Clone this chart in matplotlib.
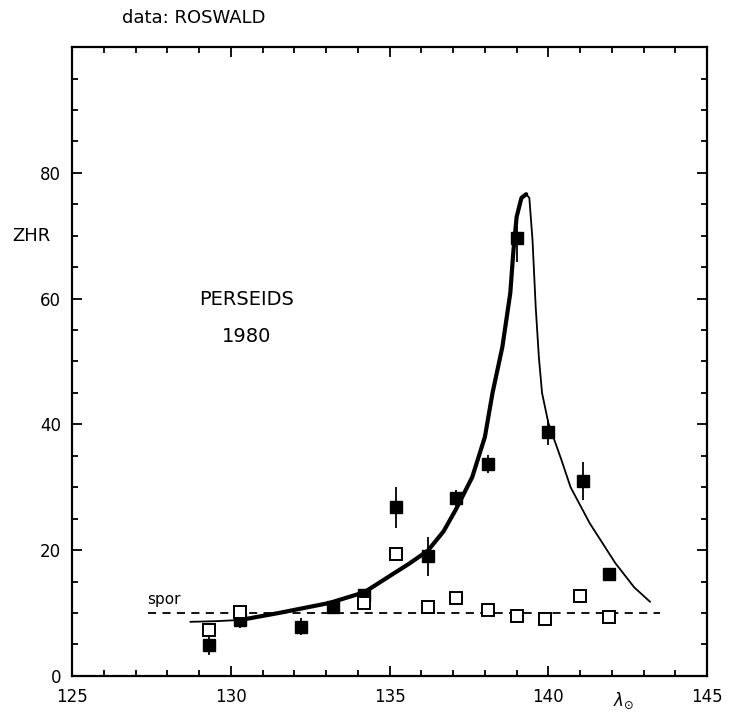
##############################################################################
# Perseids 1980 ZHR profile (data: ROSWALD)
##############################################################################
import numpy as np
import matplotlib
matplotlib.use('Agg')
import matplotlib.pyplot as plt
from matplotlib.ticker import MultipleLocator

plt.rcParams['font.family'] = ['DejaVu Sans']
##############################################################################
# Data
##############################################################################
# filled squares: ZHR with error bars
filledLam = [129.3, 130.3, 132.2, 133.2, 134.2, 135.2, 136.2, 137.1, 138.1,
             139.0, 140.0, 141.1, 141.9]
filledZhr = [4.9, 8.9, 7.8, 11.0, 12.9, 26.9, 19.1, 28.3, 33.7,
             69.6, 38.8, 31.0, 16.2]
filledLo = [3.3, 7.6, 6.5, 10.0, 12.0, 23.5, 15.9, 27.0, 32.3,
            65.8, 36.7, 28.0, 16.2]
filledHi = [7.0, 10.0, 9.2, 12.0, 13.8, 30.0, 22.1, 29.5, 35.1,
            72.0, 40.7, 34.0, 16.2]
# open squares: sporadic rate
openLam = [129.3, 130.3, 134.2, 135.2, 136.2, 137.1, 138.1, 139.0, 139.9,
           141.0, 141.9]
openZhr = [7.3, 10.2, 11.6, 19.4, 10.9, 12.4, 10.5, 9.5, 9.1, 12.7, 9.4]
# fitted profile
curveLam = [128.7, 129.5, 130.3, 131.5, 133.1, 134.2, 135.1, 135.6, 136.2,
            136.7, 137.1, 137.6, 138.0, 138.24, 138.55, 138.8, 138.9, 139.0,
            139.15, 139.3, 139.4, 139.5, 139.6, 139.7, 139.8, 140.0, 140.4,
            140.7, 141.3, 142.1, 142.7, 143.2]
curveZhr = [8.6, 8.7, 8.9, 10.0, 11.6, 13.3, 16.2, 17.8, 19.9,
            23.0, 26.6, 31.6, 38.0, 45.0, 52.3, 60.9, 67.7, 73.0,
            76.0, 76.6, 76.0, 69.3, 58.7, 50.7, 45.0, 40.2, 34.5,
            30.0, 24.3, 18.0, 14.1, 11.8]
THICK_FROM, PEAK = 2, 19
# sporadic level
sporLam = [127.4, 143.5]
sporZhr = [10.0, 10.0]
##############################################################################
# Figure
##############################################################################
fig = plt.figure(figsize=(7.29, 7.13), dpi=100, facecolor='w')
ax = fig.add_axes([0.099, 0.052, 0.871, 0.882])

ax.plot(sporLam, sporZhr, color='k', lw=1.3, ls=(0, (4.5, 3.5)))
ax.plot(curveLam[:THICK_FROM + 1], curveZhr[:THICK_FROM + 1],
        color='k', lw=1.3, solid_capstyle='butt')
ax.plot(curveLam[THICK_FROM:PEAK + 1], curveZhr[THICK_FROM:PEAK + 1],
        color='k', lw=3.0, solid_joinstyle='round', solid_capstyle='round')
ax.plot(curveLam[PEAK:], curveZhr[PEAK:], color='k', lw=1.3)

yerr = np.array([
    np.array(filledZhr) - np.array(filledLo),
    np.array(filledHi) - np.array(filledZhr),
])
ax.errorbar(filledLam, filledZhr, yerr=yerr, fmt='s', color='k',
            ms=8.5, mec='k', mfc='k', elinewidth=1.3, capsize=0, zorder=5)
ax.plot(openLam, openZhr, 's', ms=8, mfc='w', mec='k', mew=1.4, zorder=6)

ax.set_xlim(125, 145)
ax.set_ylim(0, 100)
ax.xaxis.set_major_locator(MultipleLocator(5))
ax.xaxis.set_minor_locator(MultipleLocator(1))
ax.set_yticks([0, 20, 40, 60, 80])
ax.yaxis.set_minor_locator(MultipleLocator(5))
ax.tick_params(which='both', direction='in', top=True, right=True,
               width=1.3, labelsize=12)
ax.tick_params(which='major', length=7)
ax.tick_params(which='minor', length=4)
ax.tick_params(axis='x', pad=9)
ax.tick_params(axis='y', pad=8)
for sp in ax.spines.values():
    sp.set_linewidth(1.6)

ax.text(-0.065, 0.70, 'ZHR', transform=ax.transAxes, fontsize=13,
        ha='center', va='center')
ax.text(130.5, 59.8, 'PERSEIDS', fontsize=14, ha='center', va='center')
ax.text(130.5, 54.0, '1980', fontsize=14, ha='center', va='center')
ax.text(127.35, 11.0, 'spor', fontsize=11, ha='left', va='bottom')
ax.text(142.05, -2.4, r'$\lambda_{\odot}$', fontsize=12,
        ha='left', va='top')
fig.text(0.167, 0.975, 'data: ROSWALD', fontsize=13, ha='left', va='center')

plt.savefig('out.png', dpi=100, facecolor='w')
plt.close('all')
